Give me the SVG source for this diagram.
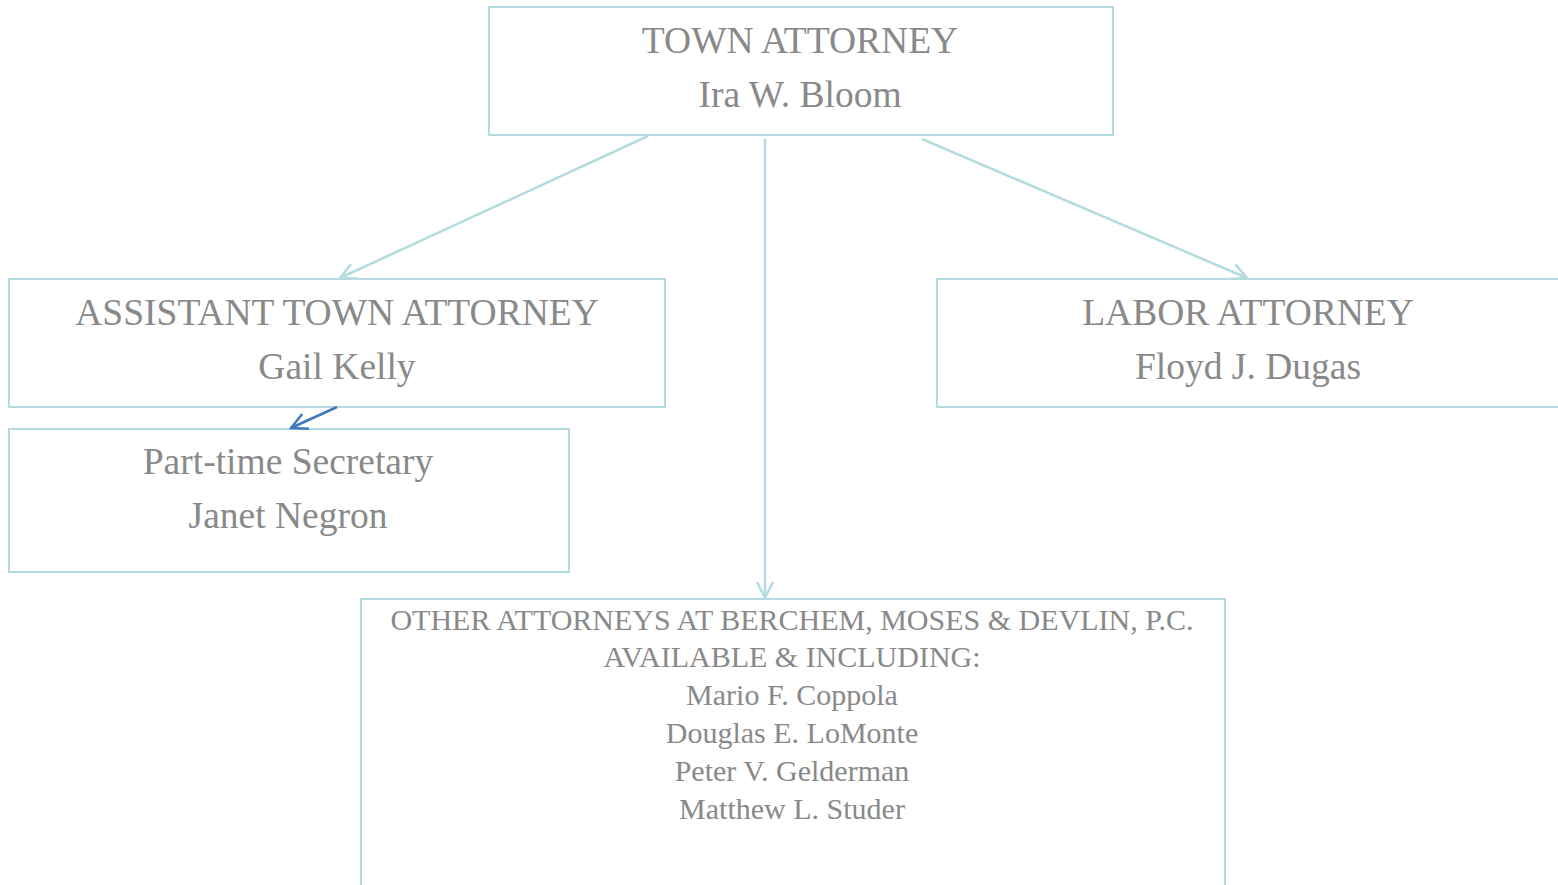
<svg xmlns="http://www.w3.org/2000/svg" width="1558" height="885" viewBox="0 0 1558 885">
<style>
.box{fill:#fff;stroke:#B4DCE0;stroke-width:2}
.t{font-family:"Liberation Serif","Times New Roman",serif;fill:#898989;text-anchor:middle}
.big{font-size:37.5px}
.small{font-size:30px}
.c{stroke:#B4DCE0;stroke-width:2.5;fill:none}
.cb{stroke:#3F78BF;stroke-width:2.5;fill:none}
</style>
<defs>
<marker id="a" viewBox="0 0 20 20" refX="18" refY="10" markerWidth="20" markerHeight="20" markerUnits="userSpaceOnUse" orient="auto"><path d="M2,2 L18,10 L2,18" fill="none" stroke="#B4DCE0" stroke-width="2.5"/></marker>
<marker id="ab" viewBox="0 0 20 20" refX="18" refY="10" markerWidth="20" markerHeight="20" markerUnits="userSpaceOnUse" orient="auto"><path d="M2,2 L18,10 L2,18" fill="none" stroke="#3F78BF" stroke-width="2.5"/></marker>
</defs>
<rect width="1558" height="885" fill="#fff"/>
<g id="n1"><rect class="box" x="489" y="7" width="624" height="128"/>
<text class="t big" x="800" y="53">TOWN ATTORNEY</text>
<text class="t big" x="800" y="107">Ira W. Bloom</text></g>
<g id="n2"><rect class="box" x="9" y="279" width="656" height="128"/>
<text class="t big" x="337" y="325">ASSISTANT TOWN ATTORNEY</text>
<text class="t big" x="337" y="379">Gail Kelly</text></g>
<g id="n3"><rect class="box" x="937" y="279" width="630" height="128"/>
<text class="t big" x="1248" y="325">LABOR ATTORNEY</text>
<text class="t big" x="1248" y="379">Floyd J. Dugas</text></g>
<g id="n4"><rect class="box" x="9" y="429" width="560" height="143"/>
<text class="t big" x="288" y="474">Part-time Secretary</text>
<text class="t big" x="288" y="528">Janet Negron</text></g>
<g id="n5"><rect class="box" x="361" y="599" width="864" height="300"/>
<text class="t small" x="792" y="630">OTHER ATTORNEYS AT BERCHEM, MOSES &amp; DEVLIN, P.C.</text>
<text class="t small" x="792" y="667">AVAILABLE &amp; INCLUDING:</text>
<text class="t small" x="792" y="705">Mario F. Coppola</text>
<text class="t small" x="792" y="743">Douglas E. LoMonte</text>
<text class="t small" x="792" y="781">Peter V. Gelderman</text>
<text class="t small" x="792" y="819">Matthew L. Studer</text></g>
<g id="connectors">
<line class="c" x1="648" y1="136" x2="340" y2="278" marker-end="url(#a)"/>
<line class="c" x1="765" y1="139" x2="765" y2="598" marker-end="url(#a)"/>
<line class="c" x1="922" y1="139" x2="1247" y2="278" marker-end="url(#a)"/>
<line class="cb" x1="337" y1="407" x2="291" y2="428" marker-end="url(#ab)"/>
</g>
</svg>
